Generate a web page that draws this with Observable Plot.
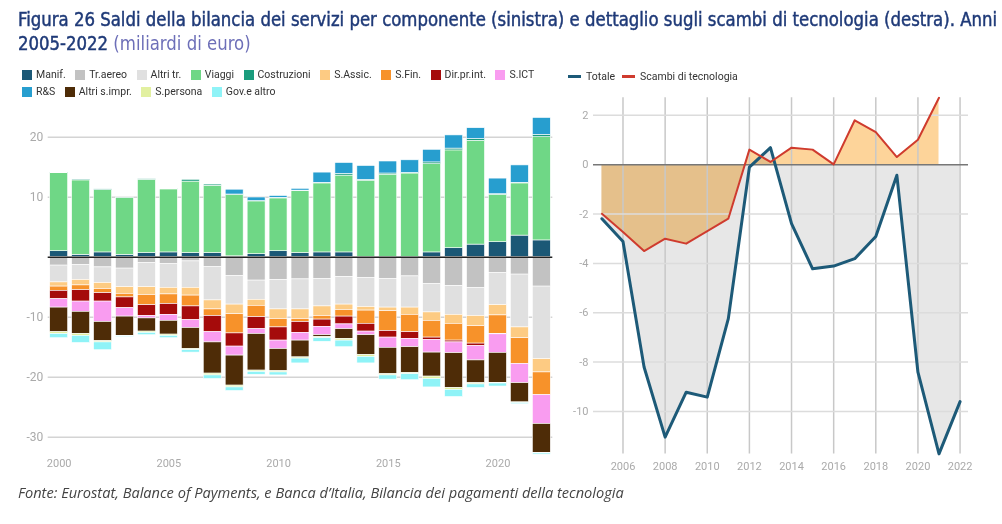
<!DOCTYPE html>
<html><head><meta charset="utf-8">
<script src="https://cdn.jsdelivr.net/npm/d3@7"></script>
<script src="https://cdn.jsdelivr.net/npm/@observablehq/plot@0.6"></script>
<style>
body{margin:0;background:#fff;width:1002px;height:524px;position:relative;overflow:hidden;font-family:Roboto,sans-serif}
.tl{position:absolute;left:18px;color:#1f3a78;font-family:"Liberation Sans Narrow","DejaVu Sans Condensed","DejaVu Sans",sans-serif;font-stretch:condensed;font-weight:normal;-webkit-text-stroke:0.45px #1f3a78;font-size:19px;white-space:nowrap;transform-origin:0 0}
.tl span{color:#6d6fb8;-webkit-text-stroke:0}
#legL{position:absolute;left:22px;top:68px;width:545px;display:flex;flex-wrap:wrap;row-gap:2px;font-size:10.5px;color:#333}
.it{display:inline-flex;align-items:center;margin-right:9.5px;height:13px}
.sw{width:10px;height:10px;margin-right:4px;display:inline-block}
#legR{position:absolute;left:568px;top:70px;display:flex;font-size:10.5px;color:#333}
.ln{width:13px;height:3px;margin-right:5px;display:inline-block}
#left{position:absolute;left:0;top:100px}
#right{position:absolute;left:560px;top:90px}
#cap{position:absolute;left:18px;top:482px;font-family:"Open Sans",sans-serif;font-style:italic;font-size:14.6px;color:#444;white-space:nowrap}
</style></head>
<body>
<div class="tl" id="t1">Figura 26 Saldi della bilancia dei servizi per componente (sinistra) e dettaglio sugli scambi di tecnologia (destra). Anni</div>
<div class="tl" id="t2">2005-2022 <span>(miliardi di euro)</span></div>
<div id="legL"></div>
<div id="legR"></div>
<div id="left"></div>
<div id="right"></div>
<div id="cap">Fonte: Eurostat, Balance of Payments, e Banca d’Italia, Bilancia dei pagamenti della tecnologia</div>
<script>
// ---- Left chart data (miliardi di euro), 2000-2022 ----
const years = [2000,2001,2002,2003,2004,2005,2006,2007,2008,2009,2010,2011,2012,2013,2014,2015,2016,2017,2018,2019,2020,2021,2022];
const seriesNames = ["Manif.","Tr.aereo","Altri tr.","Viaggi","Costruzioni","S.Assic.","S.Fin.","Dir.pr.int.","S.ICT","R&S","Altri s.impr.","S.persona","Gov.e altro"];
const seriesColors = ["#1b5876","#c2c2c2","#e0e0e0","#6fd786","#1a9c7d","#fdcb83","#f7922a","#a50b0b","#f99cf0","#279ecf","#4e2c07","#e2f0a0","#8ff3f7"];
const manif      = [1.0,0.4,0.8,0.4,0.7,0.8,0.7,0.7,0.15,0.5,1.0,0.7,0.8,0.8,0.05,0.05,0.05,0.8,1.5,2.1,2.5,3.6,2.8];
const trAereo    = [-1.4,-1.3,-1.7,-1.9,-1.0,-1.1,-0.7,-1.6,-3.1,-3.9,-3.8,-3.7,-3.6,-3.3,-3.5,-3.6,-3.2,-4.5,-4.8,-5.1,-2.6,-2.9,-4.9];
const altriTr    = [-2.8,-2.5,-2.6,-3.1,-4.0,-4.0,-4.4,-5.6,-4.8,-3.2,-4.9,-5.0,-4.6,-4.6,-4.8,-4.8,-5.2,-4.7,-4.8,-4.7,-5.4,-8.8,-12.1];
const viaggi     = [13.0,12.4,10.4,9.5,12.2,10.5,11.9,11.2,10.2,8.8,8.8,10.3,11.5,12.8,12.7,13.7,13.9,14.7,16.3,17.3,7.9,8.7,17.2];
const costruz    = [0.1,0.15,0.1,0.05,0.1,0.1,0.3,0.2,0.1,0.05,0.1,0.1,0.1,0.3,0.15,0.2,0.1,0.3,0.3,0.3,0.1,0.1,0.4];
const sAssic     = [-0.7,-0.9,-1.0,-1.1,-1.3,-1.1,-1.3,-1.5,-1.6,-1.0,-1.6,-1.6,-1.6,-0.9,-0.6,-0.6,-1.2,-1.4,-1.5,-1.7,-1.7,-1.8,-2.2];
const sFin       = [-0.7,-0.8,-0.7,-0.6,-1.7,-1.6,-1.8,-1.1,-3.2,-1.9,-1.4,-0.5,-0.6,-1.1,-2.2,-3.3,-2.9,-2.8,-2.8,-2.9,-3.1,-4.3,-3.8];
const dirPrInt   = [-1.4,-1.9,-1.4,-1.8,-1.8,-1.8,-2.3,-2.7,-2.2,-2.0,-2.2,-1.8,-1.2,-1.3,-1.3,-1.1,-1.1,-0.4,-0.3,-0.4,-0.05,0,0];
const sICT       = [-1.4,-1.7,-3.4,-1.4,-0.4,-1.0,-1.3,-1.7,-1.5,-0.8,-1.4,-1.3,-1.4,-0.8,-0.6,-1.7,-1.4,-2.1,-1.8,-2.4,-3.1,-3.2,-4.8];
const rs         = [0,0,0,0,0,0,0,0,0.8,0.6,0.3,0.3,1.7,1.8,2.3,2.0,2.1,2.1,2.2,1.8,2.6,2.9,2.8];
const altriSImpr = [-4.1,-3.7,-3.2,-3.2,-2.2,-2.3,-3.5,-5.2,-5.0,-6.1,-3.7,-2.8,-0.3,-1.6,-3.3,-4.4,-4.3,-4.0,-5.8,-3.8,-5.0,-3.2,-4.8];
const sPersona   = [-0.3,-0.3,-0.2,-0.1,-0.2,-0.2,-0.2,-0.3,-0.3,-0.2,-0.2,-0.2,-0.2,-0.3,-0.3,-0.2,-0.2,-0.4,-0.3,-0.2,-0.1,-0.1,-0.1];
const govAltro   = [-0.7,-1.2,-1.3,-0.1,-0.4,-0.4,-0.4,-0.6,-0.6,-0.5,-0.5,-0.8,-0.6,-1.1,-1.1,-0.7,-1.0,-1.4,-1.2,-0.6,-0.5,-0.2,-0.2];
const seriesValues = [manif,trAereo,altriTr,viaggi,costruz,sAssic,sFin,dirPrInt,sICT,rs,altriSImpr,sPersona,govAltro];
const leftYTicks = [-30,-20,-10,10,20];
const leftXTicks = [2000,2005,2010,2015,2020];

// ---- Right chart data ----
const techYears = [2005,2006,2007,2008,2009,2010,2011,2012,2013,2014,2015,2016,2017,2018,2019,2020,2021,2022];
const totale = [-2.19,-3.11,-8.2,-11.04,-9.22,-9.42,-6.24,-0.1,0.69,-2.39,-4.22,-4.11,-3.81,-2.91,-0.43,-8.41,-11.72,-9.6];
const scambiYears = [2005,2006,2007,2008,2009,2010,2011,2012,2013,2014,2015,2016,2017,2018,2019,2020,2021];
const scambi = [-1.99,-2.73,-3.5,-3.0,-3.2,-2.69,-2.19,0.61,0.11,0.69,0.61,0.01,1.8,1.32,0.31,1.01,2.71];
const rightXTicks = [2006,2008,2010,2012,2014,2016,2018,2020,2022];
const rightYTicks = [-10,-8,-6,-4,-2,0,2];

// title fit
const tw = 979;
const t1 = document.getElementById("t1"), t2 = document.getElementById("t2");
const sc = tw / t1.getBoundingClientRect().width;
t1.style.top = "8px"; t2.style.top = "32px";
t1.style.transform = `scaleX(${sc})`; t2.style.transform = `scaleX(${sc})`;

// legends
const legL = document.getElementById("legL");
seriesNames.forEach((s,i)=>{
  const d = document.createElement("span"); d.className="it";
  d.innerHTML = `<span class="sw" style="background:${seriesColors[i]}"></span>`;
  d.appendChild(document.createTextNode(s));
  legL.appendChild(d);
  if (s === "S.ICT") { const br = document.createElement("div"); br.style.width="100%"; br.style.height="0"; legL.appendChild(br); }
});
const legR = document.getElementById("legR");
[["Totale","#1d5a78"],["Scambi di tecnologia","#cf3b2e"]].forEach(([s,c])=>{
  const d = document.createElement("span"); d.className="it"; d.style.marginRight="7px";
  d.innerHTML = `<span class="ln" style="background:${c}"></span>`;
  d.appendChild(document.createTextNode(s));
  legR.appendChild(d);
});

const rows = [];
seriesNames.forEach((s,i)=> years.forEach((y,j)=> rows.push({year:y, series:s, value:seriesValues[i][j]})));

const left = Plot.plot({
  width:560, height:375, marginLeft:47.7, marginRight:7.7, marginTop:10, marginBottom:30,
  style:{fontFamily:"Roboto, sans-serif", fontSize:"11px", color:"#aaa", background:"transparent"},
  x:{type:"band", domain:years, padding:0, round:false, axis:null, label:null},
  y:{domain:[-31.38,24.45], axis:null, label:null},
  color:{domain:seriesNames, range:seriesColors},
  marks:[
    Plot.gridY(leftYTicks, {stroke:"#d4d4d4", strokeOpacity:1, strokeWidth:1.5}),
    Plot.barY(rows, {x:"year", y:"value", fill:"series", order:seriesNames, insetLeft:2, insetRight:2, stroke:"#fff", strokeWidth:0.6}),
    Plot.ruleY([0], {stroke:"#222", strokeWidth:1.5}),
    Plot.axisY(leftYTicks, {tickSize:0, tickPadding:5, tickFormat:d=>String(d), fill:"#aaa", fontSize:12, label:null}),
    Plot.axisX(leftXTicks, {tickSize:0, tickPadding:14, tickFormat:d=>String(d), fill:"#aaa", fontSize:11, label:null})
  ]
});
document.getElementById("left").appendChild(left);

const tot = techYears.map((y,i)=>({year:y, v:totale[i]}));
const sca = scambiYears.map((y,i)=>({year:y, v:scambi[i]}));
const right = Plot.plot({
  width:442, height:390, marginLeft:33, marginRight:34, marginTop:7.3, marginBottom:26.6,
  style:{fontFamily:"Roboto, sans-serif", fontSize:"11px", color:"#aaa", background:"transparent"},
  x:{domain:[2004.6,2022.4], axis:null, label:null},
  y:{domain:[-11.72,2.71], axis:null, label:null},
  marks:[
    Plot.areaY(tot, {x:"year", y:"v", fill:"#d0d0d0", fillOpacity:0.5}),
    Plot.areaY(sca, {x:"year", y:"v", fill:"#fdd49a", mixBlendMode:"multiply"}),
    Plot.gridX(rightXTicks, {stroke:"#c8c8c8", strokeOpacity:1, strokeWidth:1.5}),
    Plot.gridY(rightYTicks.filter(d=>d!==0), {stroke:"#dcdcdc", strokeOpacity:1, strokeWidth:1.5}),
    Plot.ruleY([0], {stroke:"#777", strokeWidth:1.5}),
    Plot.line(tot, {x:"year", y:"v", stroke:"#1d5a78", strokeWidth:3}),
    Plot.line(sca, {x:"year", y:"v", stroke:"#cf3b2e", strokeWidth:2}),
    Plot.axisY(rightYTicks, {tickSize:0, tickPadding:5, tickFormat:d=>String(d), fill:"#aaa", fontSize:11, label:null}),
    Plot.axisX(rightXTicks, {tickSize:0, tickPadding:8, tickFormat:d=>String(d), fill:"#aaa", fontSize:11, label:null})
  ]
});
document.getElementById("right").appendChild(right);
</script>
</body></html>
